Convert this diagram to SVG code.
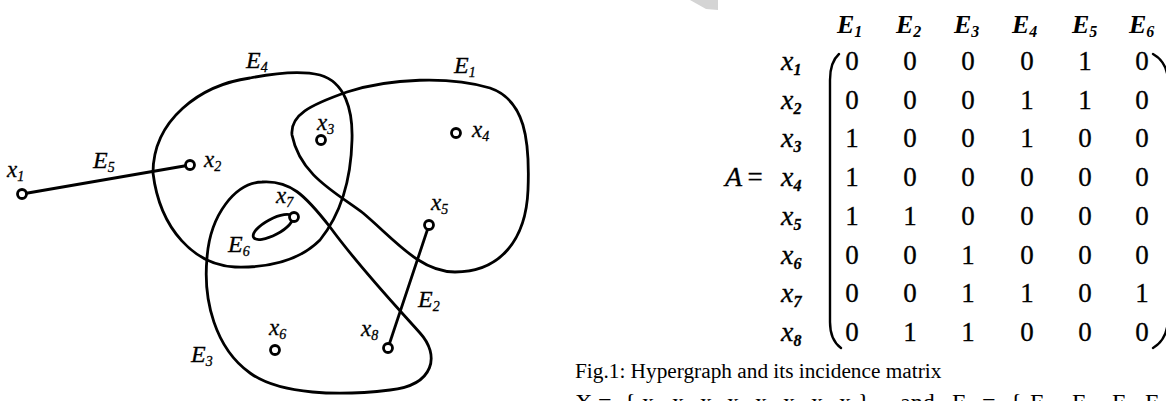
<svg xmlns="http://www.w3.org/2000/svg" width="1166" height="401" viewBox="0 0 1166 401">
<style>
.edge{fill:none;stroke:#000;stroke-width:2.8;stroke-linejoin:round;stroke-linecap:round}
.node{fill:#fff;stroke:#000;stroke-width:2.8}
.lx{font-family:"Liberation Serif",serif;font-style:italic;font-size:23px;fill:#000;stroke:#000;stroke-width:0.3}
.le{font-family:"Liberation Serif",serif;font-style:italic;font-size:24px;fill:#000;stroke:#000;stroke-width:0.3}
.sub{font-size:14px}
.mh{font-family:"Liberation Serif",serif;font-style:italic;font-weight:bold;font-size:26px;fill:#000}
.mhs{font-size:16px}
.mr{font-family:"Liberation Serif",serif;font-style:italic;font-size:28px;fill:#000;stroke:#000;stroke-width:0.3}
.mrs{font-size:16px;font-weight:bold}
.mv{font-family:"Liberation Serif",serif;font-size:27px;fill:#000;text-anchor:middle;stroke:#000;stroke-width:0.3}
.par{fill:none;stroke:#000;stroke-width:2.4;stroke-linecap:round}
.cap{font-family:"Liberation Serif",serif;font-size:21.3px;fill:#000}
.cap2{font-family:"Liberation Serif",serif;font-size:24px;fill:#000}
.cs{font-size:14px}
</style>
<rect width="1166" height="401" fill="#fff"/>
<path d="M690,0 L718,0 L718,10 L706,9 Z" fill="#d4d4d4"/>

<g id="connectors">
  <path id="E4" class="edge" d="M153,173 C153,120 200,85 250,78 C275,73 300,70 320,75 C345,82 353,110 352,140 C351,180 340,215 320,240 C300,260 270,268 235,267 C195,265 160,230 153,173 Z"/>
  <path id="E1" class="edge" d="M292,135 C290,115 310,105 347,92 C390,78 450,76 490,88 C525,100 530,140 528,190 C526,240 500,272 455,272 C420,272 395,240 363,213 C335,192 300,175 292,135 Z"/>
  <path id="E3" class="edge" d="M262,182 C290,180 305,195 330,227 C360,268 395,305 420,333 C440,355 435,385 390,390 C340,396 280,395 250,373 C215,348 203,300 207,258 C210,215 235,183 262,182 Z"/>
  <ellipse id="E6" class="edge" cx="273" cy="227" rx="22" ry="8" transform="rotate(-28 273 227)"/>
  <line id="E5" class="edge" x1="22" y1="194" x2="190" y2="165"/>
  <line id="E2" class="edge" x1="429" y1="225" x2="388" y2="348"/>
</g>

<g id="edge-labels">
  <text class="le" x="246" y="68">E<tspan class="sub" dy="4">4</tspan></text>
  <text class="le" x="454" y="73">E<tspan class="sub" dy="4">1</tspan></text>
  <text class="le" x="93" y="168">E<tspan class="sub" dy="4">5</tspan></text>
  <text class="le" x="228" y="252">E<tspan class="sub" dy="4">6</tspan></text>
  <text class="le" x="418" y="307">E<tspan class="sub" dy="4">2</tspan></text>
  <text class="le" x="191" y="362">E<tspan class="sub" dy="4">3</tspan></text>
</g>

<g id="node-x1"><circle class="node" cx="22" cy="194" r="4.5"/><text class="lx" x="7" y="177">x<tspan class="sub" dy="4">1</tspan></text></g>
<g id="node-x2"><circle class="node" cx="190" cy="165" r="4.5"/><text class="lx" x="204" y="167">x<tspan class="sub" dy="4">2</tspan></text></g>
<g id="node-x3"><circle class="node" cx="321" cy="140" r="4.5"/><text class="lx" x="317" y="130">x<tspan class="sub" dy="4">3</tspan></text></g>
<g id="node-x4"><circle class="node" cx="456" cy="133" r="4.5"/><text class="lx" x="472" y="137">x<tspan class="sub" dy="4">4</tspan></text></g>
<g id="node-x5"><circle class="node" cx="429" cy="225" r="4.5"/><text class="lx" x="431" y="210">x<tspan class="sub" dy="4">5</tspan></text></g>
<g id="node-x6"><circle class="node" cx="275" cy="350" r="4.5"/><text class="lx" x="269" y="335">x<tspan class="sub" dy="4">6</tspan></text></g>
<g id="node-x7"><circle class="node" cx="294" cy="217" r="4.5"/><text class="lx" x="276" y="203">x<tspan class="sub" dy="4">7</tspan></text></g>
<g id="node-x8"><circle class="node" cx="388" cy="348" r="4.5"/><text class="lx" x="361" y="336">x<tspan class="sub" dy="4">8</tspan></text></g>

<g id="matrix">
  <text class="mh" x="837" y="33">E<tspan class="mhs" dy="4">1</tspan></text>
  <text class="mh" x="896" y="33">E<tspan class="mhs" dy="4">2</tspan></text>
  <text class="mh" x="954" y="33">E<tspan class="mhs" dy="4">3</tspan></text>
  <text class="mh" x="1012" y="33">E<tspan class="mhs" dy="4">4</tspan></text>
  <text class="mh" x="1072" y="33">E<tspan class="mhs" dy="4">5</tspan></text>
  <text class="mh" x="1129" y="33">E<tspan class="mhs" dy="4">6</tspan></text>

  <text class="mr" x="725" y="186.1">A</text>
  <text class="mv" x="755" y="186.1">=</text>
  <text class="mr" x="781" y="70">x<tspan class="mrs" dy="5">1</tspan></text>
  <text class="mr" x="781" y="108.7">x<tspan class="mrs" dy="5">2</tspan></text>
  <text class="mr" x="781" y="147.4">x<tspan class="mrs" dy="5">3</tspan></text>
  <text class="mr" x="781" y="186.1">x<tspan class="mrs" dy="5">4</tspan></text>
  <text class="mr" x="781" y="224.9">x<tspan class="mrs" dy="5">5</tspan></text>
  <text class="mr" x="781" y="263.6">x<tspan class="mrs" dy="5">6</tspan></text>
  <text class="mr" x="781" y="302.3">x<tspan class="mrs" dy="5">7</tspan></text>
  <text class="mr" x="781" y="341">x<tspan class="mrs" dy="5">8</tspan></text>

  <path class="par" d="M839,54 Q830,62 830,80 L830,322 Q830,340 841,348"/>
  <path class="par" d="M1153,54 Q1167,62 1168,80 L1168,320 Q1167,340 1153,348"/>

  <g id="row1"><text class="mv" x="852" y="70">0</text><text class="mv" x="910" y="70">0</text><text class="mv" x="968" y="70">0</text><text class="mv" x="1027" y="70">0</text><text class="mv" x="1085" y="70">1</text><text class="mv" x="1142" y="70">0</text></g>
  <g id="row2"><text class="mv" x="852" y="108.7">0</text><text class="mv" x="910" y="108.7">0</text><text class="mv" x="968" y="108.7">0</text><text class="mv" x="1027" y="108.7">1</text><text class="mv" x="1085" y="108.7">1</text><text class="mv" x="1142" y="108.7">0</text></g>
  <g id="row3"><text class="mv" x="852" y="147.4">1</text><text class="mv" x="910" y="147.4">0</text><text class="mv" x="968" y="147.4">0</text><text class="mv" x="1027" y="147.4">1</text><text class="mv" x="1085" y="147.4">0</text><text class="mv" x="1142" y="147.4">0</text></g>
  <g id="row4"><text class="mv" x="852" y="186.1">1</text><text class="mv" x="910" y="186.1">0</text><text class="mv" x="968" y="186.1">0</text><text class="mv" x="1027" y="186.1">0</text><text class="mv" x="1085" y="186.1">0</text><text class="mv" x="1142" y="186.1">0</text></g>
  <g id="row5"><text class="mv" x="852" y="224.9">1</text><text class="mv" x="910" y="224.9">1</text><text class="mv" x="968" y="224.9">0</text><text class="mv" x="1027" y="224.9">0</text><text class="mv" x="1085" y="224.9">0</text><text class="mv" x="1142" y="224.9">0</text></g>
  <g id="row6"><text class="mv" x="852" y="263.6">0</text><text class="mv" x="910" y="263.6">0</text><text class="mv" x="968" y="263.6">1</text><text class="mv" x="1027" y="263.6">0</text><text class="mv" x="1085" y="263.6">0</text><text class="mv" x="1142" y="263.6">0</text></g>
  <g id="row7"><text class="mv" x="852" y="302.3">0</text><text class="mv" x="910" y="302.3">0</text><text class="mv" x="968" y="302.3">1</text><text class="mv" x="1027" y="302.3">1</text><text class="mv" x="1085" y="302.3">0</text><text class="mv" x="1142" y="302.3">1</text></g>
  <g id="row8"><text class="mv" x="852" y="341">0</text><text class="mv" x="910" y="341">1</text><text class="mv" x="968" y="341">1</text><text class="mv" x="1027" y="341">0</text><text class="mv" x="1085" y="341">0</text><text class="mv" x="1142" y="341">0</text></g>
</g>

<g id="caption">
  <text class="cap" x="575" y="378">Fig.1: Hypergraph and its incidence matrix</text>
  <text class="cap2" y="410"><tspan x="575">X</tspan><tspan x="598">=</tspan><tspan x="624">{</tspan><tspan x="642">x</tspan><tspan class="cs" dy="3">1</tspan><tspan dy="-3">,</tspan><tspan x="672">x</tspan><tspan class="cs" dy="3">2</tspan><tspan dy="-3">,</tspan><tspan x="700">x</tspan><tspan class="cs" dy="3">3</tspan><tspan x="727" dy="-3">x</tspan><tspan class="cs" dy="3">4</tspan><tspan x="755" dy="-3">x</tspan><tspan class="cs" dy="3">5</tspan><tspan x="783" dy="-3">x</tspan><tspan class="cs" dy="3">6</tspan><tspan x="811" dy="-3">x</tspan><tspan class="cs" dy="3">7</tspan><tspan x="839" dy="-3">x</tspan><tspan class="cs" dy="3">8</tspan><tspan dy="-3">}</tspan><tspan x="900">and</tspan><tspan x="952">E</tspan><tspan x="982">=</tspan><tspan x="1010">{</tspan><tspan x="1030">E</tspan><tspan class="cs" dy="3">1</tspan><tspan dy="-3">,</tspan><tspan x="1072">E</tspan><tspan class="cs" dy="3">2</tspan><tspan dy="-3">,</tspan><tspan x="1112">E</tspan><tspan class="cs" dy="3">3</tspan><tspan x="1145" dy="-3">E</tspan><tspan class="cs" dy="3">4</tspan></text>
</g>
</svg>
